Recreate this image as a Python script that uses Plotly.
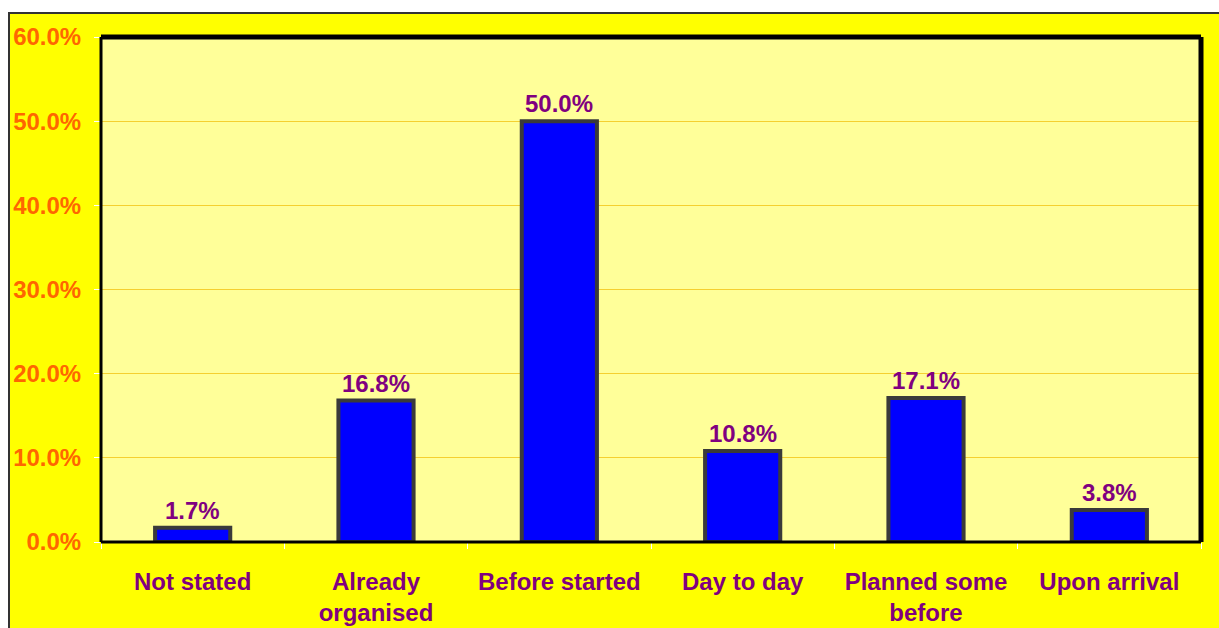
import plotly.graph_objects as go

categories = ["Not stated", "Already<br>organised", "Before started", "Day to day", "Planned some<br>before", "Upon arrival"]
values = [1.7, 16.8, 50.0, 10.8, 17.1, 3.8]
y_ticks = [0, 10, 20, 30, 40, 50, 60]
y_tick_labels = [f"{t:.1f}%" for t in y_ticks]

FONT = "Liberation Sans, Arial, sans-serif"
PURPLE = "#800080"
ORANGE = "#FF6600"

fig = go.Figure()
fig.add_trace(go.Bar(
    x=categories, y=values,
    marker=dict(color="#0000FF", line=dict(color="#3A3A3A", width=4)),
    hoverinfo="skip",
))

for c, v in zip(categories, values):
    fig.add_annotation(x=c, y=v, xref="x", yref="y", text=f"<b>{v:.1f}%</b>",
                       showarrow=False, yanchor="bottom", yshift=2,
                       font=dict(family=FONT, size=24, color=PURPLE))

L, R, T, B = 101, 18, 37, 86
W, H = 1219, 628
pw, ph = W - L - R, H - T - B

def px_x(p):
    return (p - L) / pw

def px_y(p):
    return (H - B - p) / ph

shapes = [
    # outer yellow box
    dict(type="rect", xref="paper", yref="paper", x0=px_x(9), x1=px_x(1230), y0=px_y(640), y1=px_y(13),
         fillcolor="#FFFF00", line=dict(color="#333333", width=2), layer="below"),
    # plot area background
    dict(type="rect", xref="paper", yref="paper", x0=0, x1=1, y0=0, y1=1,
         fillcolor="#FFFF99", line=dict(width=0), layer="below"),
    # plot frame
    dict(type="line", xref="paper", yref="paper", x0=0, x1=1, y0=1, y1=1, line=dict(color="black", width=5), layer="above"),
    dict(type="line", xref="paper", yref="paper", x0=1, x1=1, y0=0, y1=1, line=dict(color="black", width=5), layer="above"),
    dict(type="line", xref="paper", yref="paper", x0=0, x1=0, y0=0, y1=1, line=dict(color="black", width=3), layer="above"),
    dict(type="line", xref="paper", yref="paper", x0=0, x1=1, y0=0, y1=0, line=dict(color="black", width=3), layer="above"),
]

fig.update_layout(
    width=W, height=H,
    margin=dict(l=L, r=R, t=T, b=B, pad=0),
    paper_bgcolor="white",
    plot_bgcolor="#FFFF99",
    showlegend=False,
    bargap=0.59,
    shapes=shapes,
    font=dict(family=FONT),
)
fig.update_xaxes(
    type="category", tickson="boundaries", ticks="outside", ticklen=6, tickcolor="white",
    tickfont=dict(family=FONT, size=24, color=PURPLE),
    tickvals=categories, ticktext=[f"<b>{c}</b>" for c in categories],
    ticklabelstandoff=23, showgrid=False, zeroline=False, showline=False,
    automargin=False,
)
fig.update_yaxes(
    range=[0, 60], tickvals=y_ticks, ticktext=[f"<b>{t}</b>" for t in y_tick_labels],
    ticks="outside", ticklen=6, tickcolor="white",
    tickfont=dict(family=FONT, size=24, color=ORANGE),
    gridcolor="#F5D030", gridwidth=1, zeroline=False, showline=False,
    ticklabelstandoff=8, automargin=False,
)

fig.write_html("out.html")
